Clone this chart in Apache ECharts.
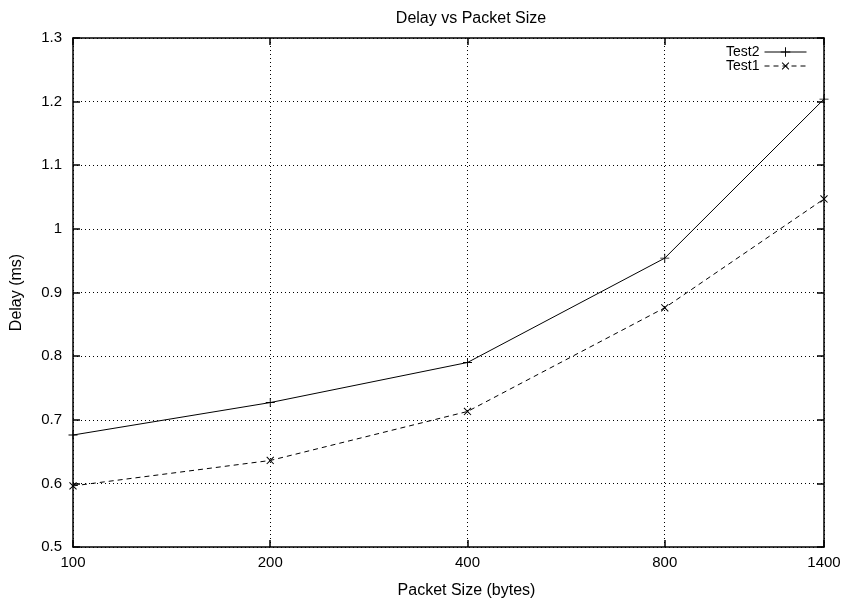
<!DOCTYPE html>
<html>
<head>
<meta charset="utf-8">
<script src="https://cdn.jsdelivr.net/npm/echarts@6/dist/echarts.min.js"></script>
<style>
  html, body { margin: 0; padding: 0; background: #fff; }
  #chart { width: 846px; height: 607px; }
</style>
</head>
<body>
<div id="chart"></div>
<script>
const packetSizes = [100, 200, 400, 800, 1400]
const test2Delay = [0.676, 0.727, 0.790, 0.954, 1.204]
const test1Delay = [0.596, 0.636, 0.713, 0.876, 1.047]
const delayTicks = [0.5, 0.6, 0.7, 0.8, 0.9, 1, 1.1, 1.2, 1.3]

const plusPath = 'path://M4.5,0H5.5V4.5H10V5.5H5.5V10H4.5V5.5H0V4.5H4.5Z'
const font = 'Liberation Sans, Arial, sans-serif'

const toPoints = ys => packetSizes.map((x, i) => [x, ys[i]])

const chart = echarts.init(document.getElementById('chart'))

const axisLine = { show: true, lineStyle: { color: '#000', width: 1.5 } }
const tickIn = { show: true, inside: true, length: 7, lineStyle: { color: '#000', width: 1.5 } }
const gridLine = { show: true, lineStyle: { color: '#000', type: [1, 3], width: 1 } }

chart.setOption({
  animation: false,
  backgroundColor: '#fff',
  textStyle: { fontFamily: font },
  title: {
    text: 'Delay vs Packet Size',
    left: 466,
    textAlign: 'center',
    top: 6,
    textStyle: { fontSize: 16, fontWeight: 'normal', color: '#000', fontFamily: font }
  },
  legend: {
    right: 34,
    top: 40,
    orient: 'vertical',
    align: 'right',
    itemGap: 0,
    itemWidth: 42,
    itemHeight: 12,
    lineStyle: { width: 1 },
    textStyle: { fontSize: 14, color: '#000', fontFamily: font },
    data: ['Test2', 'Test1']
  },
  grid: { left: 73, right: 22, top: 38, bottom: 60 },
  xAxis: [
    {
      type: 'log',
      logBase: 10,
      min: 100,
      max: 1400,
      name: 'Packet Size (bytes)',
      nameLocation: 'middle',
      nameGap: 36,
      nameTextStyle: { fontSize: 16, color: '#000', padding: [0, 0, 0, 36] },
      axisLine: axisLine,
      axisTick: Object.assign({ customValues: packetSizes }, tickIn),
      axisLabel: {
        fontSize: 15,
        color: '#000',
        margin: 8,
        customValues: packetSizes,
        formatter: v => String(v)
      },
      splitLine: gridLine
    },
    {
      type: 'log',
      logBase: 10,
      min: 100,
      max: 1400,
      position: 'top',
      axisLine: axisLine,
      axisTick: Object.assign({ customValues: packetSizes }, tickIn),
      axisLabel: { show: false },
      splitLine: { show: false }
    }
  ],
  yAxis: [
    {
      type: 'value',
      min: 0.5,
      max: 1.3,
      interval: 0.1,
      name: 'Delay (ms)',
      nameLocation: 'middle',
      nameGap: 48,
      nameTextStyle: { fontSize: 16, color: '#000' },
      axisLine: axisLine,
      axisTick: tickIn,
      axisLabel: {
        fontSize: 15,
        color: '#000',
        margin: 11,
        customValues: delayTicks
      },
      splitLine: gridLine
    },
    {
      type: 'value',
      min: 0.5,
      max: 1.3,
      interval: 0.1,
      position: 'right',
      axisLine: axisLine,
      axisTick: tickIn,
      axisLabel: { show: false },
      splitLine: { show: false }
    }
  ],
  series: [
    {
      name: 'Test2',
      type: 'line',
      data: toPoints(test2Delay),
      symbol: plusPath,
      symbolSize: 9,
      itemStyle: { color: '#000' },
      lineStyle: { color: '#000', width: 1 },
      markLine: {
        silent: true,
        symbol: 'none',
        label: { show: false },
        lineStyle: { color: '#000', type: [1, 3], width: 1 },
        data: packetSizes.slice(1, -1).map(x => ({ xAxis: x }))
      }
    },
    {
      name: 'Test1',
      type: 'line',
      data: toPoints(test1Delay),
      symbol: plusPath,
      symbolRotate: 45,
      symbolSize: 10,
      itemStyle: { color: '#000' },
      lineStyle: { color: '#000', width: 1, type: [5, 4] }
    }
  ]
})

window.addEventListener('resize', () => chart.resize())
</script>
</body>
</html>
